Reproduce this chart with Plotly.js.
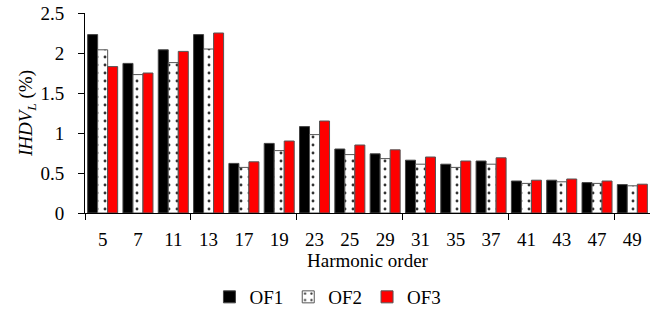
<!DOCTYPE html>
<html>
<head>
<meta charset="utf-8">
<script src="https://cdn.plot.ly/plotly-3.0.1.min.js"></script>
<style>html,body{margin:0;padding:0;background:#fff;}#chart{width:664px;height:313px;}</style>
</head>
<body>
<div id="chart"></div>
<script>
const categories = ["5","7","11","13","17","19","23","25","29","31","35","37","41","43","47","49"];
const of1 = [2.23,1.87,2.04,2.23,0.62,0.87,1.08,0.80,0.74,0.66,0.61,0.65,0.40,0.41,0.38,0.355];
const of2 = [2.04,1.73,1.88,2.05,0.57,0.78,0.98,0.73,0.68,0.61,0.57,0.61,0.37,0.39,0.37,0.34];
const of3 = [1.83,1.75,2.02,2.25,0.64,0.90,1.15,0.85,0.79,0.70,0.65,0.69,0.41,0.425,0.40,0.36];
const seriesNames = ["OF1","OF2","OF3"];
const boundaryTicks = [-0.5,2.5,5.5,8.5,11.5,14.5];

const font = {family: '"Liberation Serif", "Times New Roman", Times, serif', size: 19, color: "#000"};

const traces = [
  {type:"bar", name:seriesNames[0], x:categories, y:of1,
   marker:{color:"#000000", line:{color:"#444", width:1}}},
  {type:"bar", name:seriesNames[1], x:categories, y:of2,
   marker:{color:"#ffffff", line:{color:"#555", width:1},
     pattern:{shape:".", fgcolor:"#333", bgcolor:"#ffffff", size:8, solidity:0.1}}},
  {type:"bar", name:seriesNames[2], x:categories, y:of3,
   marker:{color:"#ff0000", line:{color:"#555", width:1}}},
  {type:"scatter", mode:"markers", x:[0], y:[0], xaxis:"x2", showlegend:false, hoverinfo:"skip",
   marker:{opacity:0, size:1}}
];

const layout = {
  width:664, height:313,
  margin:{l:85, r:14, t:13, b:100, autoexpand:false},
  paper_bgcolor:"#fff", plot_bgcolor:"#fff",
  font: font,
  barmode:"group", bargap:0.15, bargroupgap:0,
  showlegend:true,
  legend:{orientation:"h", x:0.43, xanchor:"center", y:-0.42, yanchor:"middle",
    font:font, itemwidth:20, tracegroupgap:0},
  xaxis:{type:"category", showgrid:false, zeroline:false, showline:true, linecolor:"#000", linewidth:1,
    ticks:"", tickfont:font, ticklabelstandoff:9,
    title:{text:"Harmonic order", font:font, standoff:4}},
  xaxis2:{overlaying:"x", range:[-0.5,15.5], showgrid:false, zeroline:false,
    showticklabels:false, ticks:"outside", ticklen:6, tickcolor:"#000", tickwidth:1,
    tickmode:"array", tickvals:boundaryTicks, side:"bottom", anchor:"y"},
  yaxis:{range:[0,2.5], dtick:0.5, showgrid:false, zeroline:false, showline:true, linecolor:"#000", linewidth:1,
    ticks:"outside", ticklen:6, tickcolor:"#000", tickfont:font, ticklabelstandoff:10,
    title:{text:"<i>IHDV</i><sub><i>L</i></sub> (%)", font:font, standoff:2}}
};

Plotly.newPlot("chart", traces, layout, {staticPlot:true, displayModeBar:false});
</script>
</body>
</html>
